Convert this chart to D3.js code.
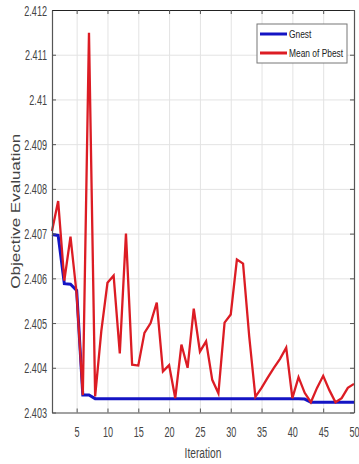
<!DOCTYPE html>
<html>
<head>
<meta charset="utf-8">
<script src="https://cdn.jsdelivr.net/npm/d3@7/dist/d3.min.js"></script>
<style>
  html, body { margin: 0; padding: 0; background: #fff; }
  svg { display: block; font-family: "Liberation Sans", Arial, sans-serif; }
</style>
</head>
<body>
<div class="svg-class"></div>
<script>
// data
var iterations = d3.range(1, 51);
var gnest = [
    2.40698, 2.40696, 2.40588, 2.40587, 2.40573, 2.40339, 2.40339, 2.40331, 2.40331, 2.40331,
    2.40331, 2.40331, 2.40331, 2.40331, 2.40331, 2.40331, 2.40331, 2.40331, 2.40331, 2.40331,
    2.40331, 2.40331, 2.40331, 2.40331, 2.40331, 2.40331, 2.40331, 2.40331, 2.40331, 2.40331,
    2.40331, 2.40331, 2.40331, 2.40331, 2.40331, 2.40331, 2.40331, 2.40331, 2.40331, 2.40331,
    2.40331, 2.40330, 2.40323, 2.40323, 2.40323, 2.40323, 2.40323, 2.40323, 2.40323, 2.40323
];
var meanPbest = [
    2.40706, 2.40773, 2.40595, 2.40693, 2.40565, 2.40339, 2.41149, 2.40336, 2.40482, 2.40590,
    2.40606, 2.40432, 2.40700, 2.40407, 2.40405, 2.40478, 2.40500, 2.40546, 2.40392, 2.40406,
    2.40332, 2.40452, 2.40400, 2.40532, 2.40436, 2.40459, 2.40373, 2.40343, 2.40501, 2.40519,
    2.40642, 2.40633, 2.40470, 2.40335, 2.40355, 2.40378, 2.40400, 2.40420, 2.40445, 2.40332,
    2.40379, 2.40344, 2.40323, 2.40355, 2.40382, 2.40350, 2.40323, 2.40332, 2.40355, 2.40364
];
var xTicks = [5, 10, 15, 20, 25, 30, 35, 40, 45, 50];
var yTicks = [2.403, 2.404, 2.405, 2.406, 2.407, 2.408, 2.409, 2.41, 2.411, 2.412];
var yTickLabels = ["2.403", "2.404", "2.405", "2.406", "2.407", "2.408", "2.409", "2.41", "2.411", "2.412"];
var seriesNames = ["Gnest", "Mean of Pbest"];
var seriesColors = ["#1414c4", "#dc1c24"];

var W = 359, H = 464;
var margin = { top: 10, right: 5, bottom: 51.5, left: 52 };
var width = W - margin.left - margin.right,
    height = H - margin.top - margin.bottom;

var svg = d3.select(".svg-class")
    .append("svg")
    .attr("width", W)
    .attr("height", H);

svg.append("rect").attr("width", W).attr("height", H).attr("fill", "#fff");

var g = svg.append("g")
    .attr("transform", "translate(" + margin.left + "," + margin.top + ")");

var x = d3.scaleLinear().domain([1, 50]).range([0, width]);
var y = d3.scaleLinear().domain([2.403, 2.412]).range([height, 0]);

// grid lines
g.append("g")
    .attr("class", "grid")
    .attr("transform", "translate(0," + height + ")")
    .call(d3.axisBottom(x).tickValues(xTicks).tickSize(-height).tickFormat(""))
    .call(function (s) {
        s.select(".domain").remove();
        s.selectAll("line").attr("stroke", "#e3e3e3");
    });

g.append("g")
    .attr("class", "grid")
    .call(d3.axisLeft(y).tickValues(yTicks).tickSize(-width).tickFormat(""))
    .call(function (s) {
        s.select(".domain").remove();
        s.selectAll("line").attr("stroke", "#e3e3e3");
    });

// lines
var line = d3.line()
    .x(function (d, i) { return x(iterations[i]); })
    .y(function (d) { return y(d); });

g.append("path")
    .datum(gnest)
    .attr("fill", "none")
    .attr("stroke", seriesColors[0])
    .attr("stroke-width", 3)
    .attr("d", line);

g.append("path")
    .datum(meanPbest)
    .attr("fill", "none")
    .attr("stroke", seriesColors[1])
    .attr("stroke-width", 2.3)
    .attr("d", line);

// axes, ticks pointing inside like matlab
var axisColor = "#555";
var xAxis = g.append("g")
    .attr("transform", "translate(0," + height + ")")
    .call(d3.axisBottom(x).tickValues(xTicks).tickSizeInner(-4).tickSizeOuter(0));
xAxis.selectAll("text")
    .attr("y", null)
    .attr("dy", null)
    .attr("transform", "translate(0,24.5) scale(0.65,1)")
    .attr("font-size", "14px")
    .attr("fill", "#444");

var yAxis = g.append("g")
    .call(d3.axisLeft(y).tickValues(yTicks).tickSizeInner(-4).tickSizeOuter(0)
        .tickFormat(function (d, i) { return yTickLabels[i]; }));
yAxis.selectAll("text")
    .attr("x", null)
    .attr("dy", "0.36em")
    .attr("transform", "translate(-5,0) scale(0.65,1)")
    .attr("font-size", "14px")
    .attr("fill", "#444");

// top and right box with ticks
var topAxis = g.append("g")
    .call(d3.axisTop(x).tickValues(xTicks).tickSizeInner(-4).tickSizeOuter(0).tickFormat(""));
var rightAxis = g.append("g")
    .attr("transform", "translate(" + width + ",0)")
    .call(d3.axisRight(y).tickValues(yTicks).tickSizeInner(-4).tickSizeOuter(0).tickFormat(""));

g.selectAll(".domain").attr("stroke", axisColor).attr("stroke-width", 1.2);
topAxis.select(".domain").attr("stroke", "#222");
g.selectAll(".tick line").filter(function () { return !this.closest(".grid"); })
    .attr("stroke", axisColor);

// axis labels
svg.append("text")
    .attr("transform", "translate(" + (margin.left + width / 2) + ",458) scale(0.68,1)")
    .attr("text-anchor", "middle")
    .attr("font-size", "15px")
    .attr("fill", "#444")
    .text("Iteration");

svg.append("text")
    .attr("transform", "translate(20," + (margin.top + height / 2) + ") rotate(-90) scale(1,0.75)")
    .attr("text-anchor", "middle")
    .attr("font-size", "17px")
    .attr("fill", "#444")
    .text("Objective Evaluation");

// legend
var legend = svg.append("g").attr("transform", "translate(257,24)");
legend.append("rect")
    .attr("width", 90)
    .attr("height", 39)
    .attr("fill", "#fff")
    .attr("stroke", "#777")
    .attr("stroke-width", 1);

var item = legend.selectAll(".item")
    .data(seriesNames)
    .enter()
    .append("g")
    .attr("transform", function (d, i) { return "translate(0," + (10 + i * 19) + ")"; });

item.append("line")
    .attr("x1", 3).attr("x2", 30)
    .attr("stroke", function (d, i) { return seriesColors[i]; })
    .attr("stroke-width", 3);

item.append("text")
    .attr("transform", "translate(32,3.5) scale(0.84,1)")
    .attr("font-size", "10px")
    .attr("fill", "#222")
    .text(function (d) { return d; });
</script>
</body>
</html>
